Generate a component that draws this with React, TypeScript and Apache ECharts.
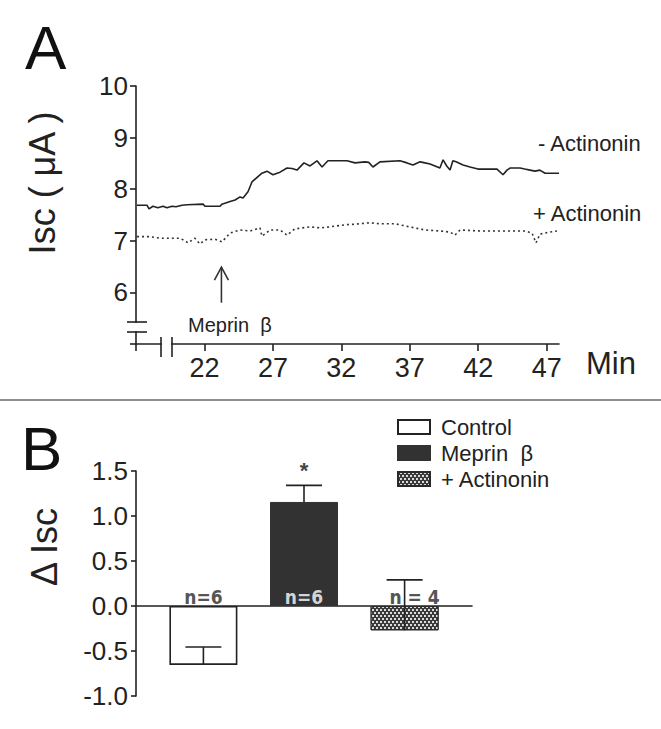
import React, { useEffect, useRef } from "react";
import * as echarts from "echarts";

const FONT = "'Liberation Sans', Arial, Helvetica, sans-serif";
const NARROW = "'Liberation Sans Narrow', 'DejaVu Sans Condensed', 'Liberation Sans', sans-serif";

// Panel A – Isc traces (time in min, Isc in µA)
const traceMinusActinonin: [number, number][] = [
  [17.07, 7.69], [17.8, 7.69], [17.95, 7.62], [18.24, 7.67], [18.6, 7.64], [18.97, 7.67],
  [19.26, 7.64], [19.63, 7.67], [19.92, 7.66], [20.36, 7.69], [20.73, 7.7], [21.9, 7.71],
  [22.04, 7.67], [23.14, 7.67], [23.28, 7.71], [23.87, 7.76], [24.24, 7.79], [24.6, 7.85],
  [24.82, 7.83], [25.18, 7.95], [25.47, 8.14], [26.2, 8.31], [26.57, 8.35], [27.0, 8.28],
  [27.52, 8.33], [28.03, 8.41], [28.4, 8.4], [28.76, 8.37], [29.27, 8.51], [29.71, 8.45],
  [30.22, 8.55], [30.59, 8.43], [31.02, 8.55], [32.41, 8.55], [33.0, 8.51], [33.73, 8.53],
  [34.0, 8.52], [34.31, 8.43], [34.82, 8.53], [36.28, 8.55], [36.8, 8.51], [37.23, 8.47],
  [37.75, 8.53], [38.11, 8.51], [38.48, 8.49], [39.2, 8.41], [39.43, 8.57], [39.7, 8.45],
  [39.94, 8.37], [40.15, 8.55], [40.38, 8.53], [40.89, 8.47], [41.4, 8.43], [41.98, 8.39],
  [43.37, 8.39], [43.81, 8.28], [44.1, 8.37], [44.32, 8.41], [45.05, 8.41], [45.4, 8.39],
  [45.78, 8.37], [46.15, 8.35], [46.5, 8.37], [46.88, 8.31], [47.9, 8.31],
];
const tracePlusActinonin: [number, number][] = [
  [17.07, 7.08], [18.0, 7.08], [18.75, 7.05], [20.2, 7.05], [20.58, 7.0], [20.8, 6.96],
  [21.3, 7.05], [21.67, 6.94], [22.04, 7.02], [22.77, 7.03], [23.28, 6.98], [23.87, 7.15],
  [24.6, 7.21], [25.33, 7.19], [26.06, 7.25], [26.2, 7.09], [26.79, 7.21], [27.52, 7.21],
  [28.03, 7.11], [28.6, 7.23], [29.7, 7.27], [30.44, 7.25], [31.17, 7.27], [32.27, 7.31],
  [33.36, 7.33], [34.09, 7.35], [34.82, 7.33], [35.92, 7.33], [37.0, 7.27], [38.11, 7.21],
  [39.2, 7.19], [39.94, 7.17], [40.3, 7.11], [40.67, 7.21], [42.13, 7.19], [43.6, 7.19],
  [45.42, 7.19], [45.93, 7.15], [46.22, 6.96], [46.51, 7.13], [47.24, 7.17], [47.75, 7.19],
];
const xTickValuesA = [17, 22, 27, 32, 37, 42, 47];
const xLabelValuesA = [22, 27, 32, 37, 42, 47];
const meprinAddTime = 23.24;
const arrowRange = [5.8, 6.49];

// Panel B – ΔIsc bars
const barCategories = ["Control", "Meprin  β", "+ Actinonin"];
const barMeans = [-0.655, 1.156, -0.27];
const barErrorEnds = [-0.455, 1.34, 0.29];
const barN = ["n=6", "n=6", "n = 4"];
const barSignificance = ["", "*", ""];

const INK = "#222";

export default function App() {
  const ref = useRef<HTMLDivElement>(null);
  useEffect(() => {
    if (!ref.current) return;
    const chart = echarts.init(ref.current, null, { renderer: "svg" });

    const barStyles = [
      { color: "#ffffff", borderColor: INK, borderWidth: 1.6 },
      { color: "#323232", borderColor: "#323232", borderWidth: 1 },
      {
        color: "#3a3a3a",
        borderColor: "#2a2a2a",
        borderWidth: 1,
        decal: {
          symbol: "rect",
          symbolSize: 1,
          color: "#dcdcdc",
          dashArrayX: [[2, 2], [0, 2, 2, 0]],
          dashArrayY: [2, 1],
        },
      },
    ];

    const barSeries = barCategories.map((name, i) => ({
      name,
      type: "bar",
      xAxisIndex: 1,
      yAxisIndex: 1,
      barWidth: 68,
      barGap: "-100%",
      data: [[i, barMeans[i]]],
      itemStyle: barStyles[i],
      z: 2,
    }));

    const option: any = {
      animation: false,
      backgroundColor: "#ffffff",
      textStyle: { fontFamily: FONT },
      grid: [
        { left: 136, top: 86, width: 423, height: 258 },
        { left: 136, top: 471, width: 336, height: 225 },
      ],
      legend: {
        data: barCategories,
        orient: "vertical",
        left: 397,
        top: 416,
        padding: 0,
        icon: "rect",
        itemWidth: 32,
        itemHeight: 14,
        itemGap: 4,
        textStyle: { fontSize: 22, color: INK, fontFamily: FONT, padding: [0, 0, 0, 6] },
        selectedMode: false,
      },
      xAxis: [
        {
          gridIndex: 0,
          type: "value",
          min: 17,
          max: 47.9,
          axisLine: { show: true, lineStyle: { color: INK, width: 1.6 } },
          axisTick: { show: true, length: 7, customValues: xTickValuesA, lineStyle: { color: INK, width: 1.6 } },
          axisLabel: { customValues: xLabelValuesA, fontSize: 27, color: INK, margin: 10, fontFamily: FONT },
          splitLine: { show: false },
        },
        {
          gridIndex: 1,
          type: "value",
          min: -0.67,
          max: 2.67,
          axisLine: { show: true, onZero: true, lineStyle: { color: INK, width: 1.6 } },
          axisTick: { show: false },
          axisLabel: { show: false },
          splitLine: { show: false },
        },
      ],
      yAxis: [
        {
          gridIndex: 0,
          type: "value",
          min: 5,
          max: 10,
          interval: 1,
          axisLine: { show: true, onZero: false, lineStyle: { color: INK, width: 1.6 } },
          axisTick: { show: true, length: 6, lineStyle: { color: INK, width: 1.6 } },
          axisLabel: {
            fontSize: 26,
            color: INK,
            margin: 8,
            fontFamily: FONT,
            formatter: (v: number) => (v === 5 ? "" : String(v)),
          },
          splitLine: { show: false },
        },
        {
          gridIndex: 1,
          type: "value",
          min: -1,
          max: 1.5,
          interval: 0.5,
          axisLine: { show: true, onZero: false, lineStyle: { color: INK, width: 1.6 } },
          axisTick: { show: true, length: 5, lineStyle: { color: INK, width: 1.6 } },
          axisLabel: {
            fontSize: 26,
            color: INK,
            margin: 8,
            fontFamily: FONT,
            formatter: (v: number) => v.toFixed(1),
          },
          splitLine: { show: false },
        },
      ],
      series: [
        {
          name: "- Actinonin",
          type: "line",
          xAxisIndex: 0,
          yAxisIndex: 0,
          data: traceMinusActinonin,
          showSymbol: false,
          symbol: "none",
          lineStyle: { color: INK, width: 1.6 },
        },
        {
          name: "+ Actinonin trace",
          type: "line",
          xAxisIndex: 0,
          yAxisIndex: 0,
          data: tracePlusActinonin,
          showSymbol: false,
          symbol: "none",
          lineStyle: { color: "#333", width: 1.6, type: [2, 3] },
        },
        {
          name: "arrow",
          type: "custom",
          xAxisIndex: 0,
          yAxisIndex: 0,
          data: [[meprinAddTime, arrowRange[0], arrowRange[1]]],
          encode: { x: 0, y: [1, 2] },
          renderItem: (params: any, api: any) => {
            const x = api.value(0);
            const p1 = api.coord([x, api.value(1)]);
            const p2 = api.coord([x, api.value(2)]);
            const s = { stroke: "#333", lineWidth: 1.6, fill: "none" };
            return {
              type: "group",
              children: [
                { type: "line", shape: { x1: p1[0], y1: p1[1], x2: p2[0], y2: p2[1] }, style: s },
                {
                  type: "polyline",
                  shape: { points: [[p2[0] - 7, p2[1] + 13], [p2[0], p2[1]], [p2[0] + 7, p2[1] + 13]] },
                  style: s,
                },
              ],
            };
          },
        },
        ...barSeries,
        {
          name: "errors",
          type: "custom",
          xAxisIndex: 1,
          yAxisIndex: 1,
          data: barMeans.map((m, i) => [i, m, barErrorEnds[i]]),
          encode: { x: 0, y: [1, 2] },
          z: 5,
          renderItem: (params: any, api: any) => {
            const i = params.dataIndex;
            const x = api.value(0);
            const p1 = api.coord([x, api.value(1)]);
            const p2 = api.coord([x, api.value(2)]);
            const p0 = api.coord([x, 0]);
            const s = { stroke: INK, lineWidth: 1.6 };
            const children: any[] = [
              { type: "line", shape: { x1: p1[0], y1: p1[1], x2: p2[0], y2: p2[1] }, style: s },
              { type: "line", shape: { x1: p2[0] - 18, y1: p2[1], x2: p2[0] + 18, y2: p2[1] }, style: s },
              {
                type: "text",
                x: p0[0] + (i === 2 ? 10 : 0),
                y: p0[1] - 9,
                style: {
                  text: barN[i],
                  fill: barMeans[i] > 0 ? "#d4d4d4" : "#555",
                  font: `bold 19px ${NARROW}`,
                  align: "center",
                  verticalAlign: "middle",
                },
              },
            ];
            if (barSignificance[i]) {
              children.push({
                type: "text",
                x: p2[0],
                y: p2[1] - 15,
                style: {
                  text: barSignificance[i],
                  fill: "#444",
                  font: `bold 22px ${FONT}`,
                  align: "center",
                  verticalAlign: "middle",
                },
              });
            }
            return { type: "group", children };
          },
        },
      ],
      graphic: [
        { type: "text", x: 25, y: 47, z: 100, style: { text: "A", font: `62px ${FONT}`, fill: "#111", align: "left", verticalAlign: "middle" } },
        { type: "text", x: 21, y: 448, z: 100, style: { text: "B", font: `62px ${FONT}`, fill: "#111", align: "left", verticalAlign: "middle" } },
        { type: "text", x: 42, y: 183, rotation: Math.PI / 2, z: 100, style: { text: "Isc ( μA )", font: `36px ${FONT}`, fill: INK, align: "center", verticalAlign: "middle" } },
        { type: "text", x: 44, y: 547, rotation: Math.PI / 2, z: 100, style: { text: "Δ Isc", font: `36px ${FONT}`, fill: INK, align: "center", verticalAlign: "middle" } },
        { type: "text", x: 538, y: 143, z: 100, style: { text: "- Actinonin", font: `22px ${FONT}`, fill: INK, align: "left", verticalAlign: "middle" } },
        { type: "text", x: 533, y: 213, z: 100, style: { text: "+ Actinonin", font: `22px ${FONT}`, fill: INK, align: "left", verticalAlign: "middle" } },
        { type: "text", x: 188, y: 325, z: 100, style: { text: "Meprin  β", font: `20px ${FONT}`, fill: INK, align: "left", verticalAlign: "middle" } },
        { type: "text", x: 586, y: 363, z: 100, style: { text: "Min", font: `31px ${FONT}`, fill: INK, align: "left", verticalAlign: "middle" } },
        { type: "line", z: 100, shape: { x1: 0, y1: 400, x2: 661, y2: 400 }, style: { stroke: "#8e8e8e", lineWidth: 2 } },
        // y-axis break
        { type: "rect", z: 100, shape: { x: 132, y: 323, width: 8, height: 8 }, style: { fill: "#fff" } },
        { type: "line", z: 101, shape: { x1: 127, y1: 322, x2: 147, y2: 322 }, style: { stroke: INK, lineWidth: 1.6 } },
        { type: "line", z: 101, shape: { x1: 127, y1: 332, x2: 147, y2: 332 }, style: { stroke: INK, lineWidth: 1.6 } },
        // x-axis break
        { type: "rect", z: 100, shape: { x: 162, y: 340, width: 9, height: 8 }, style: { fill: "#fff" } },
        { type: "line", z: 101, shape: { x1: 161, y1: 337, x2: 161, y2: 357 }, style: { stroke: INK, lineWidth: 1.6 } },
        { type: "line", z: 101, shape: { x1: 172, y1: 337, x2: 172, y2: 357 }, style: { stroke: INK, lineWidth: 1.6 } },
      ],
    };

    chart.setOption(option);
    return () => chart.dispose();
  }, []);

  return (
    <div
      ref={ref}
      style={{ position: "fixed", left: 0, top: 0, width: 661, height: 729, background: "#fff" }}
    />
  );
}
